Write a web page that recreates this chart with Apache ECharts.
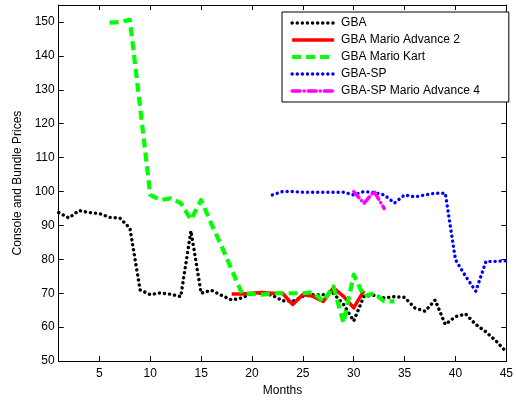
<!DOCTYPE html>
<html>
<head>
<meta charset="utf-8">
<script src="https://cdn.jsdelivr.net/npm/echarts@6/dist/echarts.min.js"></script>
<style>html,body{margin:0;padding:0;background:#fff}#c{width:516px;height:402px}</style>
</head>
<body>
<div id="c"></div>
<script>
const xTicks = [5, 10, 15, 20, 25, 30, 35, 40, 45];
const yTicks = [50, 60, 70, 80, 90, 100, 110, 120, 130, 140, 150];

const gbaMonths = [1,2,3,4,5,6,7,8,9,10,11,12,13,14,15,16,17,18,19,20,21,22,23,24,25,26,27,28,29,30,31,32,33,34,35,36,37,38,39,40,41,42,43,44,45];
const gbaValues = [93.8,92.2,94.4,93.8,93.5,92.4,92.2,89.2,71,69.6,70.1,69.7,69,88.4,70,70.9,69.4,68,68.6,70,70,69.4,67.8,67.6,69.1,69.6,69.6,70,66.7,61.8,69.1,69.4,68.6,69,68.8,65.7,64.7,68,60.8,63.1,63.9,60.8,58.6,55.9,52.7];

const ma2Months = [18,19,20,21,22,23,24,25,26,27,28,29,30,31];
const ma2Values = [69.8,69.8,70,70.2,70,70,66.7,69.6,69.1,67.6,71.6,69.1,65.7,70.8];

const kartMonths = [6,7,8,9,10,11,12,13,14,15,16,17,18,19,20,21,22,23,24,25,26,27,28,29,30,31,32,33,34];
const kartValues = [149.8,150,150.6,125,99,97.5,98,96.6,91.7,97.5,90.5,84,77,70,69.8,69.6,70,70,70,70,70.3,67.6,72,61.3,75.5,69.1,70,67.6,67.6];

const spMonths = [22,23,24,25,26,27,28,29,30,31,32,33,34,35,36,37,38,39,40,41,42,43,44,45];
const spValues = [99,100,100,99.8,99.8,99.8,99.8,99.8,99,100,99.7,99,96.6,99,98.4,99,99.5,99.5,79.9,75,70.6,79.4,79.4,79.6];

const ma4Months = [30,31,32,33];
const ma4Values = [100,96.5,100,95];

const seriesNames = ['GBA','GBA Mario Advance 2','GBA Mario Kart','GBA-SP','GBA-SP Mario Advance 4'];

function pairs(xs, ys){ return xs.map((x,i)=>[x, ys[i]]); }

const font = 'Arial, "Liberation Sans", sans-serif';
const chart = echarts.init(document.getElementById('c'), null, {renderer:'canvas'});

const axisCommon = {
  axisLine:{show:true, onZero:false, lineStyle:{color:'#000', width:1}},
  axisTick:{show:true, inside:true, length:5, lineStyle:{color:'#000', width:1}},
  splitLine:{show:false}
};

function lineSeries(name, data, color, width, type, cap){
  return {
    name, type:'line', data, symbol:'none', showSymbol:false, smooth:false,
    lineStyle:{color, width, type, cap: cap || 'butt', join:'round'},
    itemStyle:{color},
    animation:false, clip:true
  };
}

chart.setOption({
  animation:false,
  backgroundColor:'#fff',
  grid:{left:58.7, right:3.3, top:5, bottom:39, containLabel:false},
  legend:{
    left:282, top:12, orient:'vertical',
    padding:[5,29,5,8], itemGap:5, itemWidth:42, itemHeight:12,
    borderColor:'#000', borderWidth:1, backgroundColor:'#fff',
    itemStyle:{opacity:0},
    lineStyle:{width:'inherit', type:'inherit', cap:'inherit'},
    textStyle:{fontFamily:font, fontSize:12, color:'#000', padding:[0,0,0,2]},
    data: seriesNames
  },
  xAxis:[
    Object.assign({}, axisCommon, {
      type:'value', min:1, max:45, position:'bottom',
      name:'Months', nameLocation:'middle', nameGap:23,
      nameTextStyle:{fontFamily:font, fontSize:12, color:'#000'},
      axisTick:Object.assign({}, axisCommon.axisTick, {customValues:xTicks}),
      axisLabel:{show:true, customValues:xTicks, fontFamily:font, fontSize:12, color:'#000', margin:7}
    }),
    Object.assign({}, axisCommon, {
      type:'value', min:1, max:45, position:'top',
      axisTick:Object.assign({}, axisCommon.axisTick, {customValues:xTicks}),
      axisLabel:{show:false}
    })
  ],
  yAxis:[
    Object.assign({}, axisCommon, {
      type:'value', min:50, max:155, position:'left',
      name:'Console and Bundle Prices', nameLocation:'middle', nameGap:34, nameRotate:90,
      nameTextStyle:{fontFamily:font, fontSize:12, color:'#000'},
      axisTick:Object.assign({}, axisCommon.axisTick, {customValues:yTicks}),
      axisLabel:{show:true, customValues:yTicks, fontFamily:font, fontSize:12, color:'#000', margin:4}
    }),
    Object.assign({}, axisCommon, {
      type:'value', min:50, max:155, position:'right',
      axisTick:Object.assign({}, axisCommon.axisTick, {customValues:yTicks}),
      axisLabel:{show:false}
    })
  ],
  series:[
    lineSeries(seriesNames[0], pairs(gbaMonths, gbaValues), '#000000', 3.4, [0.1, 5], 'round'),
    lineSeries(seriesNames[1], pairs(ma2Months, ma2Values), '#ff0000', 3.5, 'solid'),
    lineSeries(seriesNames[2], pairs(kartMonths, kartValues), '#00ff00', 4.2, [9, 5], 'butt'),
    lineSeries(seriesNames[3], pairs(spMonths, spValues), '#0000ff', 3.4, [0.1, 5], 'round'),
    lineSeries(seriesNames[4], pairs(ma4Months, ma4Values), '#ff00ff', 3.5, [8, 4, 0.1, 4], 'round')
  ]
});
</script>
</body>
</html>
